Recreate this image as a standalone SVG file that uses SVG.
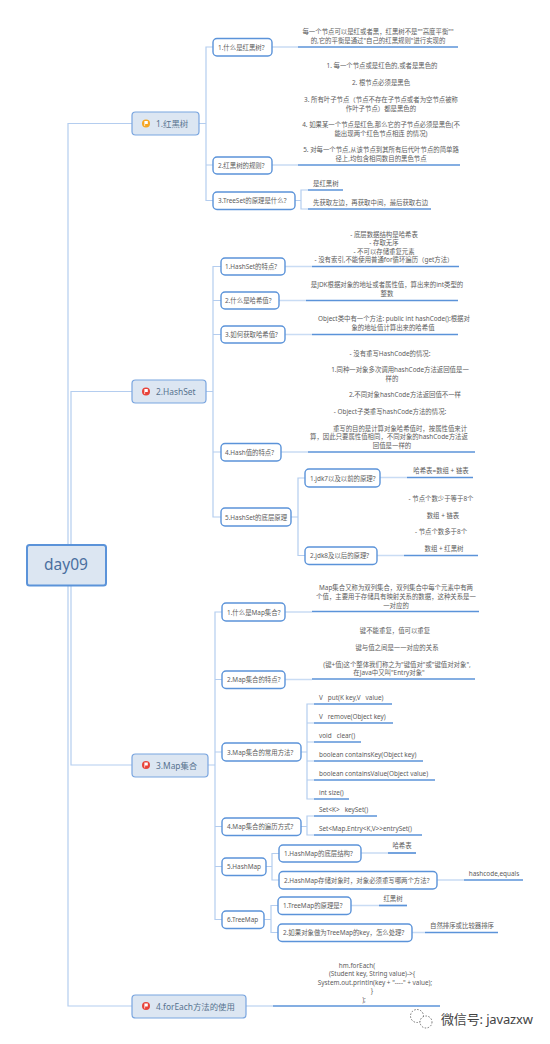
<svg xmlns="http://www.w3.org/2000/svg" width="550" height="1044" viewBox="0 0 550 1044">
<style>
text{font-family:"Noto Sans","Noto Sans CJK SC",sans-serif;font-size:6.4px;fill:#5c5c5c;dominant-baseline:central}
.m{text-anchor:middle}
.root{fill:#dce6f2;stroke:#5b93d9;stroke-width:2}
.l1{fill:#dce6f2;stroke:#79a5df;stroke-width:1.2}
.l2{fill:#fff;stroke:#5b93d9;stroke-width:1.4}
.ul{stroke:#5b93d9;stroke-width:1.7;fill:none}
.c{stroke:#b4cdef;stroke-width:1.2;fill:none}
.c2{stroke:#c9dcf4;stroke-width:1.5;fill:none}
.rt{font-size:15.500px;fill:#4a6f9f}
.lt{font-size:8.4px;fill:#57738f}
.flag{fill:#fff}
.wm{font-size:13px;fill:#444}
</style>
<defs>
<g id="flag"><path class="flag" d="M-1.6-2.4h3.4v2.8h-2.7v2.2h-.7z"/></g>
</defs>
<rect width="550" height="1044" fill="#fff"/>
<g id="connectors">
<path class="c" d="M68 545V123.500H132M71 545V391.500H132M68 585V1006H132M71 585V765H132"/>
<path class="c" d="M199 123.500H206M213 47H206V200.500H213M206 165H213"/>
<path class="c2" d="M272 47H298M272 165H298"/>
<path class="c" d="M295 200.500H301M308 190H301V209H308"/>
<path class="c" d="M206 391.500H213M221 266.500H213V517H221M213 300.500H221M213 334.500H221M213 452H221"/>
<path class="c2" d="M285 266.500H312M279 300.500H306M285 334.500H312M281 452H308"/>
<path class="c" d="M291 517H298M305 478H298V555.500H305"/>
<path class="c2" d="M380 477.500H407M377 555.500H404"/>
<path class="c" d="M208 765H215M222 612H215V919.500H222M215 679.500H222M215 752H222M215 826.500H222M215 866.500H222"/>
<path class="c2" d="M285 612H312M285 679.500H312"/>
<path class="c" d="M301 752H307M314 704H307V799H314M307 723H314M307 742H314M307 761H314M307 780H314"/>
<path class="c" d="M301 826.500H307M314 816H307V835H314"/>
<path class="c" d="M266 866.500H272M279 853.500H272V880H279"/>
<path class="c2" d="M361 853H388M437 880H464"/>
<path class="c" d="M264 919.500H271M278 905.500H271V932.500H278"/>
<path class="c2" d="M351 905.500H379M412 932.500H425M246 1006H273"/>
</g>
<g id="root"><rect class="root" x="27" y="545" width="79" height="40.500" rx="2.500"/><text class="m rt" x="66" y="564">day09</text></g>

<g id="n1"><rect class="l1" x="132" y="112" width="67" height="23" rx="3.500"/><circle cx="146" cy="123.500" r="4" fill="#f5a623"/><use href="#flag" x="146" y="123.500"/><text class="lt" x="156" y="123.500">1.红黑树</text></g>
<g id="n2"><rect class="l1" x="132" y="380" width="74" height="23" rx="3.500"/><circle cx="146" cy="391.500" r="4" fill="#e8433a"/><use href="#flag" x="146" y="391.500"/><text class="lt" x="156" y="391.500">2.HashSet</text></g>
<g id="n3"><rect class="l1" x="132" y="754" width="76" height="23" rx="3.500"/><circle cx="146" cy="765" r="4" fill="#e8433a"/><use href="#flag" x="146" y="765"/><text class="lt" x="156" y="765">3.Map集合</text></g>
<g id="n4"><rect class="l1" x="132" y="995" width="114" height="23" rx="3.500"/><circle cx="146" cy="1006" r="4" fill="#e8433a"/><use href="#flag" x="146" y="1006"/><text class="lt" x="156" y="1006">4.forEach方法的使用</text></g>

<g id="n1-1"><rect class="l2" x="213" y="38.500" width="59" height="17.500" rx="4"/><text x="218" y="47">1.什么是红黑树?</text></g>
<g id="n1-1-a"><path class="ul" d="M298 47H458"/><text class="m" x="378" y="31">每一个节点可以是红或者黑，红黑树不是""高度平衡""</text><text class="m" x="378" y="40">的,它的平衡是通过"自己的红黑规则"进行实现的</text></g>
<g id="n1-2"><rect class="l2" x="213" y="157" width="59" height="17" rx="4"/><text x="218" y="165.500">2.红黑树的规则?</text></g>
<g id="n1-2-a"><path class="ul" d="M298 165H460"/>
<text class="m" x="382" y="65">1. 每一个节点或是红色的,或者是黑色的</text>
<text class="m" x="381" y="82">2. 根节点必须是黑色</text>
<text class="m" x="381" y="99">3. 所有叶子节点（节点不存在子节点或者为空节点被称</text>
<text class="m" x="381" y="108">作叶子节点）都是黑色的</text>
<text class="m" x="381" y="124">4. 如果某一个节点是红色,那么它的子节点必须是黑色(不</text>
<text class="m" x="381" y="133">能出现两个红色节点相连 的情况)</text>
<text class="m" x="381" y="149">5. 对每一个节点,从该节点到其所有后代叶节点的简单路</text>
<text class="m" x="381" y="158">径上,均包含相同数目的黑色节点</text></g>
<g id="n1-3"><rect class="l2" x="213" y="192" width="82" height="17.500" rx="4"/><text x="218" y="200.500">3.TreeSet的原理是什么?</text></g>
<g id="n1-3-a"><path class="ul" d="M308 190H343"/><text x="313" y="183">是红黑树</text></g>
<g id="n1-3-b"><path class="ul" d="M308 209H431"/><text x="313" y="202">先获取左边，再获取中间，最后获取右边</text></g>

<g id="n2-1"><rect class="l2" x="221" y="258" width="64" height="17" rx="4"/><text x="225" y="266.500">1.HashSet的特点?</text></g>
<g id="n2-1-a"><path class="ul" d="M312 266.500H459"/><text class="m" x="384" y="234">- 底层数据结构是哈希表</text><text class="m" x="384" y="242.500">- 存取无序</text><text class="m" x="384" y="251">- 不可以存储重复元素</text><text class="m" x="384" y="259.500">- 没有索引,不能使用普通for循环遍历（get方法）</text></g>
<g id="n2-2"><rect class="l2" x="221" y="292" width="58" height="17" rx="4"/><text x="225" y="300.500">2.什么是哈希值?</text></g>
<g id="n2-2-a"><path class="ul" d="M306 300.500H458"/><text class="m" x="387" y="284">是JDK根据对象的地址或者属性值，算出来的int类型的</text><text class="m" x="387" y="293">整数</text></g>
<g id="n2-3"><rect class="l2" x="221" y="326" width="64" height="17" rx="4"/><text x="225" y="334.500">3.如何获取哈希值?</text></g>
<g id="n2-3-a"><path class="ul" d="M312 334.500H458"/><text class="m" x="394" y="318">Object类中有一个方法: public int hashCode():根据对</text><text class="m" x="393" y="327">象的地址值计算出来的哈希值</text></g>
<g id="n2-4"><rect class="l2" x="221" y="443.500" width="60" height="17.500" rx="4"/><text x="225" y="452">4.Hash值的特点?</text></g>
<g id="n2-4-a"><path class="ul" d="M308 452H475"/>
<text class="m" x="390" y="353">-  没有重写HashCode的情况:</text>
<text class="m" x="400" y="369">1.同种一对象多次调用hashCode方法返回值是一</text>
<text class="m" x="392" y="378">样的</text>
<text class="m" x="405" y="394">2.不同对象hashCode方法返回值不一样</text>
<text class="m" x="390" y="411">-  Object子类重写hashCode方法的情况:</text>
<text class="m" x="400" y="428">重写的目的是计算对象哈希值时，按属性值来计</text>
<text class="m" x="389" y="436">算，因此只要属性值相同，不同对象的hashCode方法返</text>
<text class="m" x="392" y="445">回值是一样的</text></g>
<g id="n2-5"><rect class="l2" x="221" y="508" width="70" height="18" rx="4"/><text x="225" y="517">5.HashSet的底层原理</text></g>
<g id="n2-5-1"><rect class="l2" x="305" y="469" width="75" height="18" rx="4"/><text x="310" y="478">1.jdk7以及以前的原理?</text></g>
<g id="n2-5-1-a"><path class="ul" d="M407 477.500H473"/><text class="m" x="441" y="470">哈希表=数组 + 链表</text></g>
<g id="n2-5-2"><rect class="l2" x="305" y="547" width="72" height="17.500" rx="4"/><text x="310" y="555.500">2.jdk8及以后的原理?</text></g>
<g id="n2-5-2-a"><path class="ul" d="M404 555.500H478"/><text class="m" x="441" y="498">- 节点个数少于等于8个</text><text class="m" x="443" y="515">数组 + 链表</text><text class="m" x="441" y="531">- 节点个数多于8个</text><text class="m" x="444" y="548">数组 + 红黑树</text></g>

<g id="n3-1"><rect class="l2" x="222" y="603" width="63" height="18" rx="4"/><text x="227" y="612">1.什么是Map集合?</text></g>
<g id="n3-1-a"><path class="ul" d="M312 611.500H479"/><text class="m" x="396" y="587">Map集合又称为双列集合，双列集合中每个元素中有两</text><text class="m" x="396" y="596">个值，主要用于存储具有映射关系的数据，这种关系是一</text><text class="m" x="396" y="605">一对应的</text></g>
<g id="n3-2"><rect class="l2" x="222" y="671" width="63" height="17.500" rx="4"/><text x="227" y="679.500">2.Map集合的特点?</text></g>
<g id="n3-2-a"><path class="ul" d="M312 679H475"/><text class="m" x="395" y="630">键不能重复，值可以重复</text><text class="m" x="397" y="647">键与值之间是一一对应的关系</text><text class="m" x="397" y="664">(键+值)这个整体我们称之为"键值对"或"键值对对象",</text><text class="m" x="389" y="672.500">在Java中又叫"Entry对象"</text></g>
<g id="n3-3"><rect class="l2" x="222" y="743" width="79" height="18" rx="4"/><text x="227" y="752">3.Map集合的常用方法?</text></g>
<g id="n3-3-a"><path class="ul" d="M314 704H392"/><text x="319" y="697" xml:space="preserve">V   put(K key,V   value)</text></g>
<g id="n3-3-b"><path class="ul" d="M314 723H393"/><text x="319" y="716" xml:space="preserve">V   remove(Object key)</text></g>
<g id="n3-3-c"><path class="ul" d="M314 742H361"/><text x="319" y="735" xml:space="preserve">void   clear()</text></g>
<g id="n3-3-d"><path class="ul" d="M314 761H423"/><text x="319" y="754">boolean containsKey(Object key)</text></g>
<g id="n3-3-e"><path class="ul" d="M314 780H435"/><text x="319" y="773">boolean containsValue(Object value)</text></g>
<g id="n3-3-f"><path class="ul" d="M314 799H349"/><text x="319" y="792">int size()</text></g>
<g id="n3-4"><rect class="l2" x="222" y="818" width="79" height="17.500" rx="4"/><text x="227" y="826.500">4.Map集合的遍历方式?</text></g>
<g id="n3-4-a"><path class="ul" d="M314 816H377"/><text x="319" y="809" xml:space="preserve">Set&lt;K&gt;   keySet()</text></g>
<g id="n3-4-b"><path class="ul" d="M314 835H422"/><text x="319" y="828">Set&lt;Map.Entry&lt;K,V&gt;&gt;entrySet()</text></g>
<g id="n3-5"><rect class="l2" x="222" y="858" width="44" height="17.500" rx="4"/><text x="227" y="866.500">5.HashMap</text></g>
<g id="n3-5-1"><rect class="l2" x="279" y="845" width="82" height="17" rx="4"/><text x="284" y="853.500">1.HashMap的底层结构?</text></g>
<g id="n3-5-1-a"><path class="ul" d="M388 853H416"/><text class="m" x="402" y="845">哈希表</text></g>
<g id="n3-5-2"><rect class="l2" x="279" y="871.500" width="158" height="17.500" rx="4"/><text x="284" y="880">2.HashMap存储对象时，对象必须重写哪两个方法?</text></g>
<g id="n3-5-2-a"><path class="ul" d="M464 880H523"/><text class="m" x="494" y="873">hashcode,equals</text></g>
<g id="n3-6"><rect class="l2" x="222" y="911" width="42" height="17.500" rx="4"/><text x="227" y="919.500">6.TreeMap</text></g>
<g id="n3-6-1"><rect class="l2" x="278" y="897" width="73" height="17.500" rx="4"/><text x="283" y="905.500">1.TreeMap的原理是?</text></g>
<g id="n3-6-1-a"><path class="ul" d="M379 905.500H407"/><text class="m" x="393" y="898">红黑树</text></g>
<g id="n3-6-2"><rect class="l2" x="278" y="924" width="134" height="17.500" rx="4"/><text x="283" y="932.500">2.如果对象做为TreeMap的key，怎么处理?</text></g>
<g id="n3-6-2-a"><path class="ul" d="M425 932.500H498"/><text class="m" x="462" y="925">自然排序或比较器排序</text></g>

<g id="n4-a"><path class="ul" d="M273 1006H440"/>
<text class="m" x="357" y="965">hm.forEach(</text>
<text class="m" x="372" y="973.500">(Student key, String value)-&gt;{</text>
<text class="m" x="375" y="982">System.out.println(key + "----" + value);</text>
<text class="m" x="372" y="990.500">}</text>
<text class="m" x="364" y="999">);</text></g>

<g id="watermark">
<circle cx="417" cy="1016" r="6.500" fill="#fff" stroke="#666" stroke-width=".9" stroke-dasharray="1.5 1.5"/>
<circle cx="426" cy="1022" r="6" fill="#fff" stroke="#666" stroke-width=".9" stroke-dasharray="1.5 1.5"/>
<text class="wm" x="441" y="1019" textLength="92">微信号: javazxw</text>
</g>
</svg>
